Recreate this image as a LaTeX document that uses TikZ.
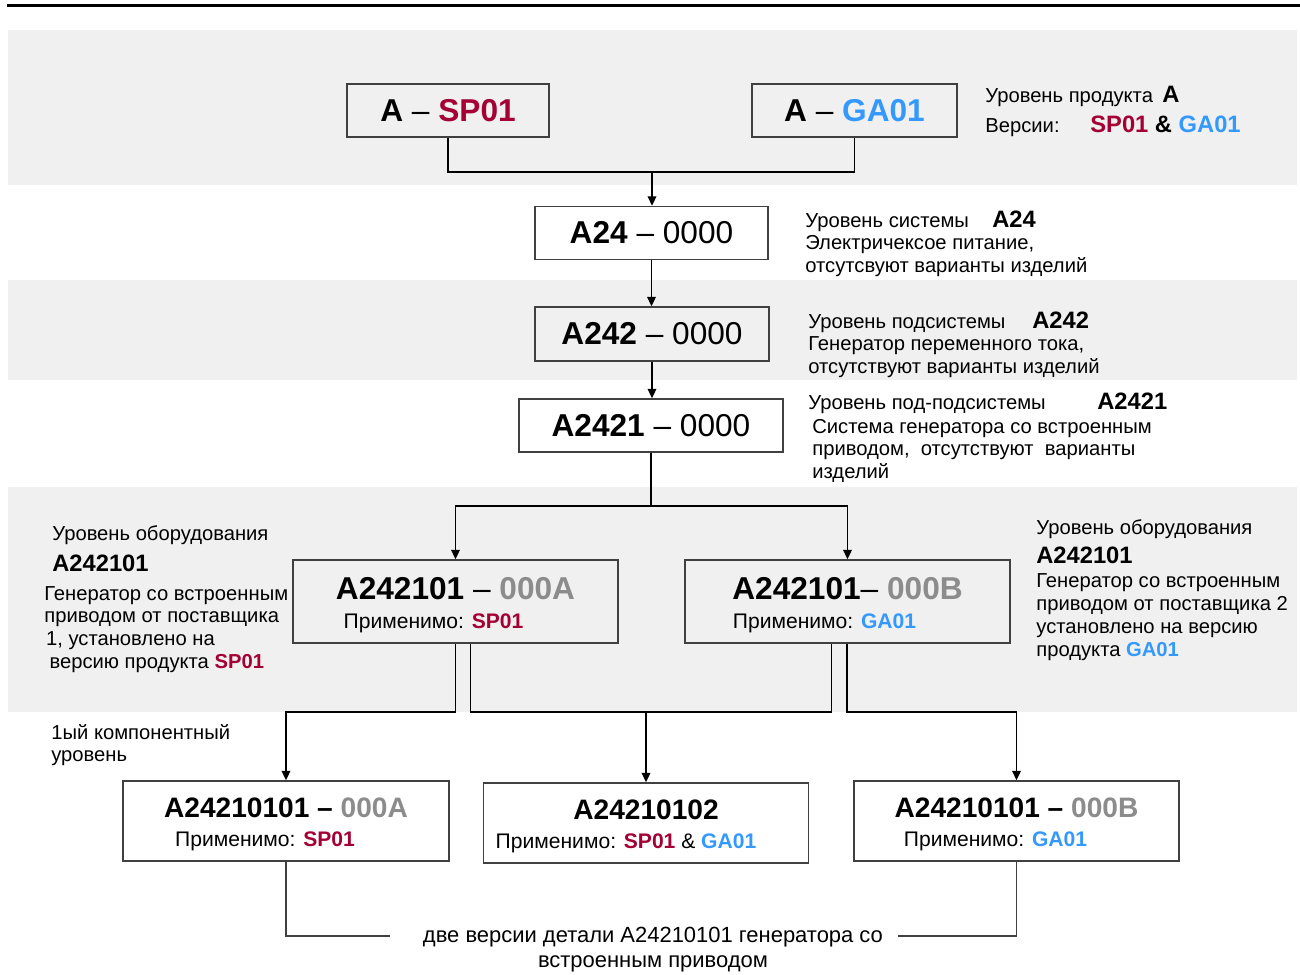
\documentclass[tikz,border=0pt]{standalone}
\usepackage{fontspec}
\setmainfont{Liberation Sans}
\usepackage{xcolor}
\usetikzlibrary{arrows.meta,calc}

\definecolor{spred}{RGB}{165,0,52}
\definecolor{gablue}{RGB}{51,153,255}
\definecolor{vargray}{RGB}{140,140,140}
\definecolor{bandgray}{RGB}{240,240,240}
\definecolor{edgegray}{RGB}{64,64,64}

\newcommand{\spver}{\textbf{\textcolor{spred}{SP01}}}
\newcommand{\gaver}{\textbf{\textcolor{gablue}{GA01}}}
\newcommand{\desclines}[1]{\begin{tabular}[t]{@{}l@{}}#1\end{tabular}}

\tikzset{
  lvlbox/.style={draw=edgegray, line width=0.8pt, inner sep=0pt, minimum height=1.06cm},
  bigtxt/.style={font=\fontsize{18}{20}\selectfont},
  link/.style={line width=1.1pt},
  linkarr/.style={link, -{Triangle[length=1.9mm,width=1.7mm]}},
  desc/.style={font=\fontsize{11.5}{13}\selectfont, anchor=base west, inner sep=0pt},
  code/.style={font=\fontsize{13.5}{15}\selectfont\bfseries, anchor=base west, inner sep=0pt},
  apply/.style={font=\fontsize{12}{14}\selectfont, anchor=base, inner sep=0pt},
  eqtitle/.style={font=\fontsize{18}{20}\selectfont\bfseries, anchor=base, inner sep=0pt},
  comptitle/.style={font=\fontsize{16}{18}\selectfont\bfseries, anchor=base, inner sep=0pt}
}

\begin{document}
\begin{tikzpicture}[x=0.02cm,y=-0.02cm]
  \useasboundingbox (0,0) rectangle (1300,974);
  % grey level bands
  \fill[bandgray] (8,30) rectangle (1297,185);
  \fill[bandgray] (8,280) rectangle (1297,380);
  \fill[bandgray] (8,487) rectangle (1297,712);
  \draw[line width=0.06cm] (7,5.5) -- (1300,5.5);

  % product, system and subsystem levels
  \node[lvlbox, bigtxt, minimum width=4.04cm] (sp) at (448,110.5) {\textbf{A} – \textbf{\textcolor{spred}{SP01}}};
  \node[lvlbox, bigtxt, minimum width=4.1cm] (ga) at (854.5,110.5) {\textbf{A} – \textbf{\textcolor{gablue}{GA01}}};
  \node[lvlbox, bigtxt, minimum width=4.66cm] (a24) at (651.5,233) {\textbf{A24} – 0000};
  \node[lvlbox, bigtxt, minimum width=4.68cm, minimum height=1.08cm] (a242) at (652,334) {\textbf{A242} – 0000};
  \node[lvlbox, bigtxt, minimum width=5.28cm] (a2421) at (651,425.5) {\textbf{A2421} – 0000};

  % equipment level
  \node[lvlbox, minimum width=6.5cm, minimum height=1.66cm] (eqA) at (455.5,601.5) {};
  \node[eqtitle] (eqAt) at ([yshift=0.05cm]eqA.center) {A242101 {\mdseries –} \textcolor{vargray}{000A}};
  \node[apply] (eqAs) at ([xshift=-0.44cm,yshift=-0.54cm]eqA.center) {Применимо: \spver};
  \node[lvlbox, minimum width=6.5cm, minimum height=1.66cm] (eqB) at (847.5,601.5) {};
  \node[eqtitle] (eqBt) at ([yshift=0.05cm]eqB.center) {A242101{\mdseries –} \textcolor{vargray}{000B}};
  \node[apply] (eqBs) at ([xshift=-0.46cm,yshift=-0.54cm]eqB.center) {Применимо: \gaver};

  % component level
  \node[lvlbox, minimum width=6.52cm, minimum height=1.6cm] (cA) at (286,821) {};
  \node[comptitle] (cAt) at ([yshift=0.08cm]cA.center) {A24210101 – \textcolor{vargray}{000A}};
  \node[apply] (cAs) at ([xshift=-0.42cm,yshift=-0.5cm]cA.center) {Применимо: \spver};
  \node[lvlbox, minimum width=6.5cm, minimum height=1.6cm] (cM) at (646,823) {};
  \node[comptitle] (cMt) at ([yshift=0.08cm]cM.center) {A24210102};
  \node[apply] (cMs) at ([xshift=-0.4cm,yshift=-0.5cm]cM.center) {Применимо: \spver{} \& \gaver};
  \node[lvlbox, minimum width=6.5cm, minimum height=1.6cm] (cB) at (1016.5,821) {};
  \node[comptitle] (cBt) at ([yshift=0.08cm]cB.center) {A24210101 – \textcolor{vargray}{000B}};
  \node[apply] (cBs) at ([xshift=-0.42cm,yshift=-0.5cm]cB.center) {Применимо: \gaver};

  % connectors
  \coordinate (jTop) at (652,172);
  \draw[link] (sp.south) |- (jTop);
  \draw[link] (ga.south) |- (jTop);
  \draw[linkarr] (jTop) -- (jTop |- a24.north);
  \draw[linkarr] (a24.south) -- (a24.south |- a242.north);
  \draw[linkarr] (a242.south) -- (a242.south |- a2421.north);
  \coordinate (jEq) at (651,506);
  \draw[link] (a2421.south) -- (jEq);
  \draw[linkarr] (jEq) -| (eqA.north);
  \draw[linkarr] (jEq) -| (eqB.north);
  \coordinate (jA) at (286,712);
  \coordinate (jM) at (646,712);
  \coordinate (jB) at (1016.5,712);
  \draw[linkarr] (eqA.south) |- (jA) -- (cA.north);
  \draw[link] ([xshift=0.3cm]eqA.south) |- (jM) -| ([xshift=-0.32cm]eqB.south);
  \draw[linkarr] (jM) -- (cM.north);
  \draw[linkarr] ([xshift=-0.01cm]eqB.south) |- (jB) -- (cB.north);

  % level descriptions
  \node[desc] (prodLvl) at (985,102) {Уровень продукта};
  \node[code] (prodCode) at (1162,102) {A};
  \node[desc] (prodVer) at (985,132) {Версии:};
  \node[code] (prodVerCode) at (1090,132) {\textcolor{spred}{SP01} \& \textcolor{gablue}{GA01}};

  \node[desc] (sysLvl) at (805,227) {\desclines{Уровень системы\\ Электричексое питание,\\ отсутсвуют варианты изделий}};
  \node[code] (sysCode) at (992,227) {A24};

  \node[desc] (subLvl) at (808,328) {\desclines{Уровень подсистемы\\ Генератор переменного тока,\\ отсутствуют варианты изделий}};
  \node[code] (subCode) at (1032,328) {A242};

  \node[desc] (ssubLvl) at (808,409) {Уровень под-подсистемы};
  \node[code] (ssubCode) at (1097,409) {A2421};
  \node[desc] (ssubTxt) at (812,433) {\desclines{Система генератора со встроенным\\ приводом,\ \ отсутствуют\ \ варианты\\ изделий}};

  \node[desc] (eqLLvl) at (52,540) {Уровень оборудования};
  \node[code] (eqLCode) at (52,571) {A242101};
  \node[desc] (eqLTxt) at (44,600) {\desclines{Генератор со встроенным\\ приводом от поставщика\\ \hspace{1pt}1,\ установлено\ на\\ \hspace{3pt}версию продукта \spver}};

  \node[desc] (eqRLvl) at (1036,534) {Уровень оборудования};
  \node[code] (eqRCode) at (1036,563) {A242101};
  \node[desc, font=\fontsize{11.5}{13.2}\selectfont] (eqRTxt) at (1036,587) {\desclines{Генератор со встроенным\\ приводом от поставщика 2\\ установлено на версию\\ продукта \gaver}};

  \node[desc] (compLvl) at (51,739) {\desclines{1ый компонентный\\ уровень}};

  % note on the two versions
  \node[font=\fontsize{12.5}{14.7}\selectfont, anchor=base, inner sep=0pt] (verNote) at (653,942) {\begin{tabular}[t]{@{}c@{}}две версии детали A24210101 генератора со\\ встроенным приводом\end{tabular}};
  \coordinate (noteL) at (390,936);
  \coordinate (noteR) at (898,936);
  \draw[edgegray, line width=0.8pt] (cA.south) |- (noteL);
  \draw[edgegray, line width=0.8pt] (cB.south) |- (noteR);
\end{tikzpicture}
\end{document}
